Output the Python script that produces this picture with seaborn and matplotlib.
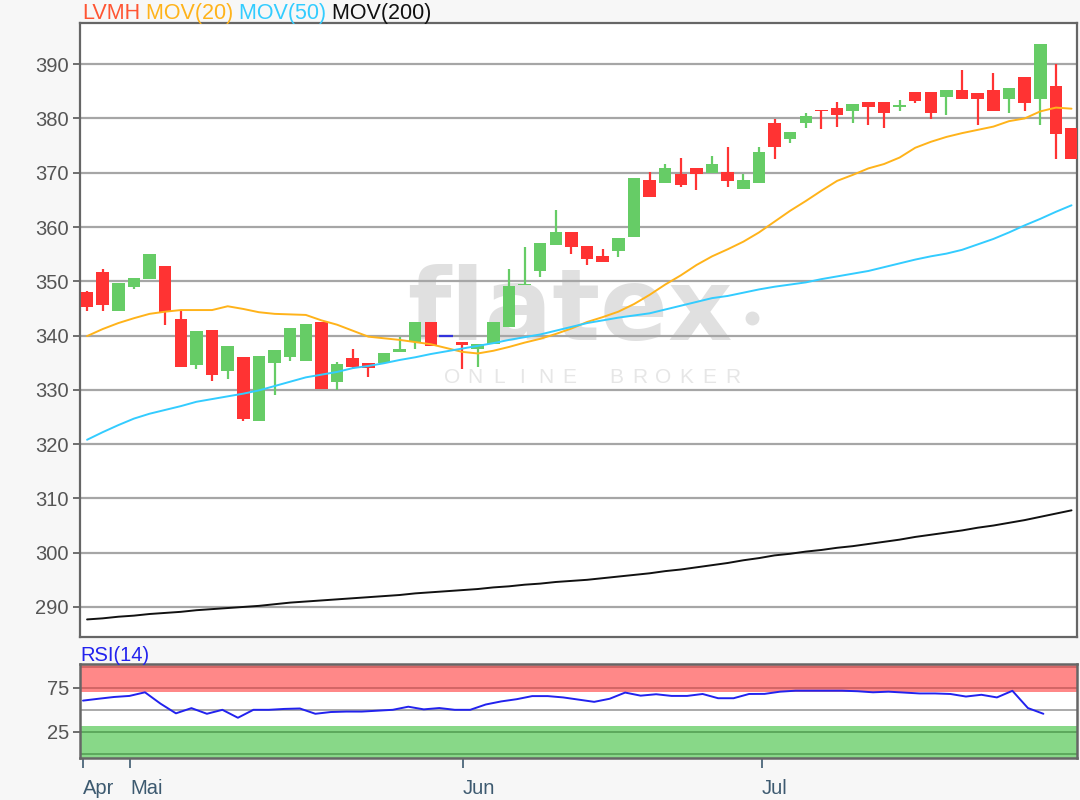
import numpy as np
import pandas as pd
import matplotlib
matplotlib.use("Agg")
import matplotlib.pyplot as plt
import seaborn as sns

# --- Kursdaten ---
open_ = [348.1, 351.75, 344.5, 349.0, 350.4, 352.9, 343.0, 334.6, 341.1, 333.5,
         336.0, 324.3, 335.0, 336.1, 335.3, 342.5, 331.4, 335.9, 334.9, 334.9,
         336.9, 338.9, 342.55, 339.9, 338.9, 337.45, 338.5, 341.6, 349.3, 351.95,
         356.7, 359.1, 356.55, 354.6, 355.6, 358.2, 368.75, 368.15, 369.7, 370.9,
         369.9, 370.2, 367.0, 368.15, 379.1, 376.2, 379.2, 381.5, 381.95, 381.4,
         383.05, 383.05, 382.1, 384.9, 384.9, 383.9, 385.2, 384.6, 385.3, 383.55,
         387.55, 383.55, 386.0, 378.3]
close = [345.3, 345.6, 349.6, 350.65, 355.1, 344.4, 334.2, 340.8, 332.7, 338.1,
         324.6, 336.3, 337.3, 341.45, 342.1, 330.1, 334.7, 334.3, 334.0, 336.7,
         337.5, 342.55, 338.0, 339.9, 338.3, 338.5, 342.55, 349.2, 349.5, 357.0,
         359.1, 356.4, 354.1, 353.5, 358.0, 369.1, 365.6, 370.9, 367.7, 369.7,
         371.6, 368.5, 368.6, 373.85, 374.7, 377.5, 380.5, 381.3, 380.6, 382.75,
         382.1, 381.0, 382.4, 383.2, 381.0, 385.2, 383.55, 383.55, 381.3, 385.7,
         382.9, 393.8, 377.2, 372.5]
high = [348.2, 352.2, 349.6, 350.65, 355.1, 352.9, 344.5, 340.8, 341.1, 338.1,
        336.0, 336.3, 337.3, 341.45, 342.1, 342.5, 335.2, 337.5, 334.9, 336.7,
        339.7, 342.55, 342.55, 339.9, 338.9, 338.5, 342.55, 352.2, 356.25, 357.0,
        363.2, 359.1, 356.55, 355.9, 358.0, 369.1, 370.2, 371.7, 372.8, 370.9,
        373.1, 374.7, 369.7, 374.7, 379.9, 377.5, 381.0, 381.5, 383.1, 382.75,
        383.05, 383.05, 383.4, 384.9, 384.9, 385.2, 389.0, 384.6, 388.3, 385.7,
        387.55, 393.8, 390.1, 378.3]
low = [344.5, 344.5, 344.5, 348.5, 350.4, 341.9, 334.2, 333.8, 331.6, 332.0,
       324.3, 324.3, 329.0, 335.4, 335.3, 330.1, 330.0, 333.8, 332.3, 334.9,
       336.9, 337.45, 338.0, 339.9, 333.8, 334.3, 338.5, 341.6, 349.3, 350.7,
       356.7, 355.1, 353.0, 353.5, 354.4, 358.2, 365.6, 368.15, 367.3, 366.9,
       369.9, 367.3, 367.0, 368.15, 372.45, 375.4, 378.3, 378.0, 378.5, 379.1,
       378.8, 378.3, 381.4, 382.8, 379.9, 380.6, 383.55, 378.8, 381.3, 381.0,
       381.35, 378.8, 372.5, 372.5]

mov20 = [339.9, 341.2, 342.3, 343.2, 344.0, 344.4, 344.7, 344.7, 344.7, 345.4,
         344.9, 344.3, 344.0, 343.9, 343.8, 342.8, 342.0, 340.9, 339.8, 339.5,
         339.2, 338.8, 338.4, 337.7, 337.0, 336.7, 337.2, 337.9, 338.7, 339.4,
         340.3, 341.3, 342.5, 343.4, 344.4, 345.8, 347.5, 349.4, 351.1, 353.0,
         354.6, 355.9, 357.3, 359.0, 361.0, 363.0, 364.8, 366.7, 368.5, 369.6,
         370.8, 371.6, 372.8, 374.6, 375.7, 376.6, 377.3, 377.9, 378.5, 379.5,
         380.0, 381.3, 382.0, 381.8]
mov50 = [320.8, 322.2, 323.5, 324.7, 325.6, 326.3, 327.0, 327.8, 328.3, 328.8,
         329.3, 329.9, 330.7, 331.5, 332.3, 332.8, 333.3, 334.0, 334.4, 334.9,
         335.5, 336.0, 336.6, 337.1, 337.6, 338.1, 338.6, 339.2, 339.7, 340.2,
         340.9, 341.6, 342.3, 342.8, 343.3, 343.7, 344.1, 344.8, 345.5, 346.2,
         346.9, 347.3, 347.9, 348.5, 349.0, 349.4, 349.8, 350.4, 350.9, 351.4,
         351.9, 352.6, 353.3, 354.0, 354.6, 355.1, 355.8, 356.8, 357.8, 359.0,
         360.3, 361.5, 362.8, 364.0]
mov200 = [287.7, 287.9, 288.2, 288.4, 288.7, 288.9, 289.1, 289.4, 289.6, 289.8,
          290.0, 290.2, 290.5, 290.8, 291.0, 291.2, 291.4, 291.6, 291.8, 292.0,
          292.2, 292.5, 292.7, 292.9, 293.1, 293.3, 293.6, 293.8, 294.1, 294.3,
          294.6, 294.8, 295.0, 295.3, 295.6, 295.9, 296.2, 296.6, 296.9, 297.3,
          297.7, 298.1, 298.6, 299.0, 299.5, 299.8, 300.2, 300.5, 300.9, 301.2,
          301.6, 302.0, 302.4, 302.9, 303.3, 303.7, 304.1, 304.6, 305.0, 305.5,
          306.0, 306.6, 307.2, 307.8]

rsi = [60.4, 62.5, 64.5, 65.7, 69.8, 57.0, 46.0, 51.9, 45.5, 50.0,
       41.0, 50.0, 50.0, 51.0, 51.5, 45.5, 47.5, 48.0, 48.0, 49.0,
       50.0, 53.5, 50.5, 52.0, 50.0, 50.0, 56.0, 59.5, 62.0, 65.5,
       65.5, 64.0, 61.5, 59.0, 62.5, 69.5, 66.0, 67.6, 65.7, 65.7,
       67.9, 63.1, 63.1, 67.9, 68.0, 70.5, 71.6, 71.6, 71.6, 71.6,
       71.0, 69.8, 70.5, 69.5, 68.5, 68.5, 67.9, 65.0, 67.0, 64.0,
       71.5, 52.0, 45.5]

month_labels = ["Apr", "Mai", "Jun", "Jul"]
month_pos = [-0.26, 2.75, 24.06, 43.2]
price_ticks = list(range(290, 400, 10))
rsi_ticks = [25, 75]

RED = "#ff3333"
GREEN = "#66cc66"
FS = 14.5

idx = np.arange(len(close))
df = pd.DataFrame({"idx": idx, "open": open_, "close": close, "high": high, "low": low,
                   "mov20": mov20, "mov50": mov50, "mov200": mov200})
df_rsi = pd.DataFrame({"x": np.linspace(month_pos[0], 61.2, len(rsi)), "rsi": rsi})

sns.set_theme(style="white")
plt.rcParams["font.family"] = ["Liberation Sans", "DejaVu Sans"]

fig = plt.figure(figsize=(10.8, 8.0), dpi=100, facecolor="#f7f7f7")
ax = fig.add_axes([0.0741, 0.204, 0.9231, 0.767])
ax_r = fig.add_axes([0.0741, 0.0525, 0.9231, 0.1175], sharex=ax)

# Wasserzeichen
wm = "#e0e0e0"
ax.text(0.491, 0.484, "flatex", transform=ax.transAxes, ha="center", va="baseline",
        fontsize=72, fontweight="bold", color=wm, family="DejaVu Sans", zorder=0.5)
ax.plot([0.674], [0.52], "o", ms=9, color=wm, transform=ax.transAxes, zorder=0.5)
for ch, xp in zip("ONLINE BROKER", np.linspace(0.373, 0.655, 13)):
    ax.text(xp, 0.423, ch, transform=ax.transAxes, ha="center", va="center",
            fontsize=15, color="#e6e6e6", zorder=0.5)

for t in price_ticks:
    ax.axhline(t, color="#a6a6a6", lw=1.6, zorder=1)

# Kerzen
cols = [RED if c < o else (GREEN if c > o else "#3333dd") for o, c in zip(open_, close)]
ax.vlines(df["idx"], df["low"], df["high"], colors=cols, lw=1.6, zorder=2)
body_lo = np.minimum(df["open"], df["close"])
body_h = (df["close"] - df["open"]).abs()
ax.bar(df["idx"], body_h, bottom=body_lo, width=0.8, color=cols, zorder=3, linewidth=0)
doji = df[df["open"] == df["close"]]
ax.hlines(doji["open"], doji["idx"] - 0.45, doji["idx"] + 0.45, colors="#3333dd", lw=1.6, zorder=3)

sns.lineplot(data=df, x="idx", y="mov20", ax=ax, color="#ffb31a", lw=1.4, zorder=4)
sns.lineplot(data=df, x="idx", y="mov50", ax=ax, color="#33ccff", lw=1.4, zorder=4)
sns.lineplot(data=df, x="idx", y="mov200", ax=ax, color="#111111", lw=1.4, zorder=4)

ax.set_xlim(-0.45, 63.35)
ax.set_ylim(284.5, 397.55)
ax.set_yticks(price_ticks)
ax.set_yticklabels([str(t) for t in price_ticks])
ax.set_xlabel("")
ax.set_ylabel("")
ax.tick_params(axis="y", direction="out", length=5, width=1.2, color="#555555",
               labelcolor="#555555", labelsize=FS, left=True, pad=3)
ax.tick_params(axis="x", bottom=False, labelbottom=False)
for s in ax.spines.values():
    s.set_color("#666666")
    s.set_linewidth(1.6)

# Legende oben links
t0 = fig.text(82 / 1080, 1 - 19 / 800, "LVMH", color="#ff5533", fontsize=15.5, va="baseline")
prev = t0
for lab, col in [(" MOV(20)", "#ffb31a"), (" MOV(50)", "#33ccff"), (" MOV(200)", "#111111")]:
    prev = ax.annotate(lab, xy=(1, 0), xycoords=prev, va="bottom", ha="left",
                       color=col, fontsize=15.5, annotation_clip=False)

# RSI
ax_r.set_facecolor("white")
ax_r.axhspan(70.5, 100.5, color="#ff8888", lw=0, zorder=0.5)
ax_r.axhspan(-4.5, 32.0, color="#88d888", lw=0, zorder=0.5)
for y, c in [(75, "#cc6060"), (98, "#cc6060"), (25, "#55a055"), (0, "#55a055")]:
    ax_r.axhline(y, color=c, lw=1.2, zorder=0.6)
ax_r.axhline(50, color="#aaaaaa", lw=1.4, zorder=0.6)
sns.lineplot(data=df_rsi, x="x", y="rsi", ax=ax_r, color="#2222ee", lw=1.4, zorder=3)
ax_r.set_ylim(-4.5, 101.8)
ax_r.set_yticks(rsi_ticks)
ax_r.set_yticklabels([str(t) for t in rsi_ticks])
ax_r.set_xticks(month_pos)
ax_r.set_xticklabels(month_labels, ha="left")
ax_r.set_xlabel("")
ax_r.set_ylabel("")
ax_r.tick_params(axis="y", direction="out", length=5, width=1.2, color="#555555",
                 labelcolor="#555555", labelsize=FS, left=True, pad=3)
ax_r.tick_params(axis="x", direction="out", length=7, width=1.2, color="#3d5a70",
                 labelcolor="#3d5a70", labelsize=FS, bottom=True, pad=8)
for s in ax_r.spines.values():
    s.set_color("#666666")
    s.set_linewidth(1.8)
fig.text(80 / 1080, 1 - 661 / 800, "RSI(14)", color="#2222ee", fontsize=FS, va="baseline")

fig.savefig("out.png", dpi=100, facecolor=fig.get_facecolor())
